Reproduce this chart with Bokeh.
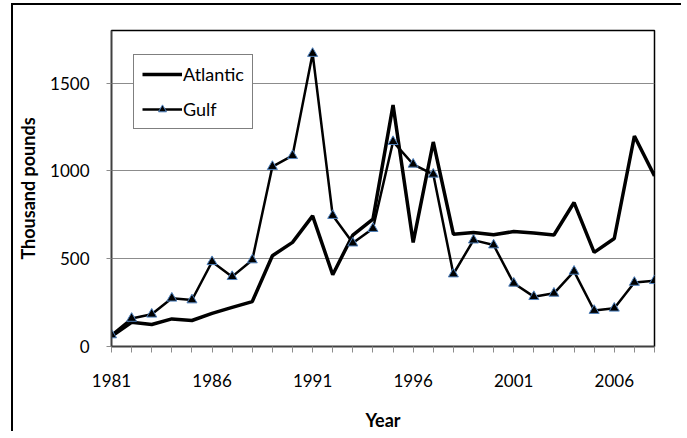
from bokeh.plotting import figure
from bokeh.models import FixedTicker, Range1d, Legend, LegendItem
from bokeh.embed import file_html
from bokeh.resources import INLINE

years = list(range(1981, 2009))
atlantic = [58, 138, 125, 157, 148, 189, 223, 256, 517, 593, 744, 409, 635, 725,
            1375, 593, 1165, 640, 650, 636, 655, 646, 635, 820, 536, 615, 1199, 972]
gulf = [66, 160, 184, 275, 265, 483, 398, 493, 1025, 1087, 1669, 746, 589, 672,
        1167, 1038, 981, 413, 606, 578, 360, 284, 303, 428, 205, 218, 365, 375]
y_ticks = [0, 500, 1000, 1500]
x_label_years = [1981, 1986, 1991, 1996, 2001, 2006]

FONT = "Lato"

p = figure(width=670, height=428, output_backend="svg", toolbar_location=None,
           x_range=Range1d(1981, 2008), y_range=Range1d(0, 1800),
           min_border_left=98, min_border_top=25, min_border_right=29,
           min_border_bottom=87)
p.styles = {"margin-top": "3px", "margin-left": "11px",
            "border-left": "2px solid black", "border-top": "2px solid black"}

p.outline_line_color = "black"
p.outline_line_width = 1.5
p.background_fill_color = "white"
p.border_fill_color = "white"

p.xgrid.visible = False
p.ygrid.ticker = FixedTicker(ticks=[500, 1000, 1500])
p.ygrid.grid_line_color = "#8c8c8c"
p.ygrid.grid_line_width = 1

# x axis
p.xaxis.ticker = FixedTicker(ticks=years)
p.xaxis.major_label_overrides = {y: ("" if y not in x_label_years else str(y)) for y in years}
p.xaxis.minor_tick_line_color = None
p.xaxis.major_tick_in = 0
p.xaxis.major_tick_out = 6
p.xaxis.major_tick_line_color = "#8c8c8c"
p.xaxis.axis_line_color = "#404040"
p.xaxis.axis_line_width = 1.5
p.xaxis.major_label_text_font = FONT
p.xaxis.major_label_text_font_size = "17px"
p.xaxis.major_label_text_color = "black"
p.xaxis.major_label_standoff = 21
p.xaxis.axis_label = "Year"
p.xaxis.axis_label_text_font = FONT
p.xaxis.axis_label_text_font_style = "bold"
p.xaxis.axis_label_text_font_size = "18px"
p.xaxis.axis_label_text_color = "black"
p.xaxis.axis_label_standoff = 19

# y axis
p.yaxis.ticker = FixedTicker(ticks=y_ticks)
p.yaxis.minor_tick_line_color = None
p.yaxis.major_tick_in = 0
p.yaxis.major_tick_out = 5
p.yaxis.major_tick_line_color = "#8c8c8c"
p.yaxis.axis_line_color = "#404040"
p.yaxis.axis_line_width = 1.5
p.yaxis.major_label_text_font = FONT
p.yaxis.major_label_text_font_size = "17px"
p.yaxis.major_label_text_color = "black"
p.yaxis.major_label_standoff = 17
p.yaxis.axis_label = "Thousand pounds"
p.yaxis.axis_label_text_font = FONT
p.yaxis.axis_label_text_font_style = "bold"
p.yaxis.axis_label_text_font_size = "18px"
p.yaxis.axis_label_text_color = "black"
p.yaxis.axis_label_standoff = 8

r_atl = p.line(years, atlantic, line_color="black", line_width=3.5)
r_gulf_line = p.line(years, gulf, line_color="black", line_width=2.5)
r_gulf_pts = p.scatter(years, gulf, marker="triangle", size=10,
                       fill_color="black", line_color="#4f81bd", line_width=1)

legend = Legend(items=[LegendItem(label="Atlantic", renderers=[r_atl]),
                       LegendItem(label="Gulf", renderers=[r_gulf_line, r_gulf_pts])],
                location=(22, 217))
legend.border_line_color = "black"
legend.border_line_width = 1.5
legend.background_fill_color = "white"
legend.background_fill_alpha = 1
legend.label_text_font = FONT
legend.label_text_font_size = "18px"
legend.label_text_color = "black"
legend.glyph_width = 40
legend.glyph_height = 20
legend.label_height = 20
legend.label_standoff = 1
legend.spacing = 13
legend.padding = 8
legend.margin = 0
p.add_layout(legend, "center")

open("out.html", "w").write(file_html(p, INLINE))
